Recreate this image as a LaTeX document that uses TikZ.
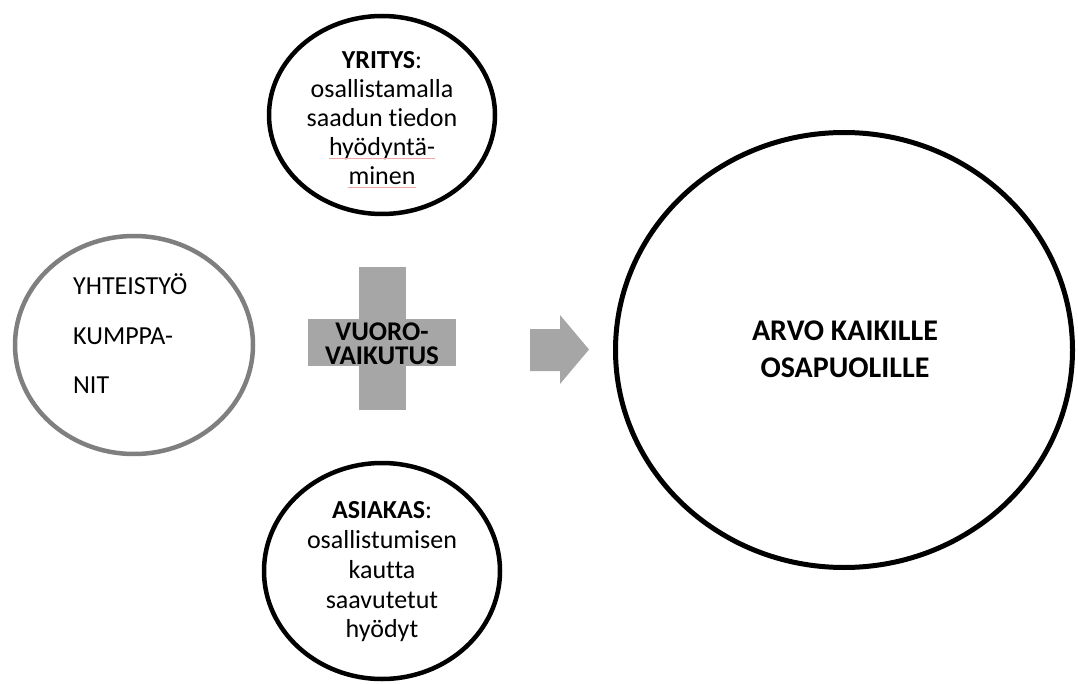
\documentclass[tikz,border=0pt]{standalone}
\usepackage{fontspec}
\setmainfont{Carlito}[Ligatures={NoCommon}]
\usetikzlibrary{shapes.geometric}
\definecolor{ringgray}{HTML}{7F7F7F}
\definecolor{blockgray}{HTML}{A6A6A6}
\definecolor{spellred}{HTML}{F2A7A7}
\begin{document}
\begin{tikzpicture}[x=1pt,y=-1pt,
  ring/.style={draw=black, line width=4.5pt, ellipse, inner sep=0pt},
  line/.style={anchor=base, inner sep=0pt, font=\fontsize{26}{30}\selectfont},
  leftline/.style={line, anchor=base west},
  crossline/.style={anchor=base, inner sep=0pt, font=\fontsize{27}{27}\selectfont\bfseries},
  bigline/.style={anchor=base, inner sep=0pt, font=\fontsize{30}{36}\selectfont\bfseries},
  squiggle/.style={draw=spellred, line width=0.8pt}]
\useasboundingbox (0,0) rectangle (1078,684);

% circles
\node[ring, minimum width=226pt, minimum height=198pt] (yritys) at (382,115) {};
\node[ring, minimum width=236pt, minimum height=216pt] (asiakas) at (382,571) {};
\node[ring, draw=ringgray, minimum width=238pt, minimum height=218pt] (kumppanit) at (134,345) {};
\node[ring, line width=5pt, minimum width=457pt, minimum height=435pt] (arvo) at (844,350) {};

% plus sign
\fill[blockgray] (359,267) rectangle (406,410);
\fill[blockgray] (308,319) rectangle (456,366);

% block arrow
\fill[blockgray] (530,329) -- (560,329) -- (560,315) -- (589,349.5)
  -- (560,384) -- (560,371) -- (530,371) -- cycle;

% company
\node[line] (y1) at (382,69)  {\textbf{YRITYS}:};
\node[line] (y2) at (382,98)  {osallistamalla};
\node[line] (y3) at (382,127) {saadun tiedon};
\node[line] (y4) at (382,156) {hyödyntä-};
\node[line] (y5) at (382,185) {minen};
\draw[squiggle] ([yshift=-2pt]y4.base west) -- ([yshift=-2pt]y4.base east);
\draw[squiggle] ([yshift=-2pt]y5.base west) -- ([yshift=-2pt]y5.base east);

% customer
\node[line] (a1) at (382,518) {\textbf{ASIAKAS}:};
\node[line] (a2) at (382,548) {osallistumisen};
\node[line] (a3) at (382,578) {kautta};
\node[line] (a4) at (382,608) {saavutetut};
\node[line] (a5) at (382,637) {hyödyt};

% partners
\node[leftline] (k1) at (73,295) {YHTEISTYÖ};
\node[leftline] (k2) at (73,344) {KUMPPA-};
\node[leftline] (k3) at (73,393) {NIT};

% interaction
\node[crossline] (v1) at (382,341) {VUORO-};
\node[crossline] (v2) at (382,364) {VAIKUTUS};

% value
\node[bigline] (b1) at (845,341) {ARVO KAIKILLE};
\node[bigline] (b2) at (845,377) {OSAPUOLILLE};
\end{tikzpicture}
\end{document}
